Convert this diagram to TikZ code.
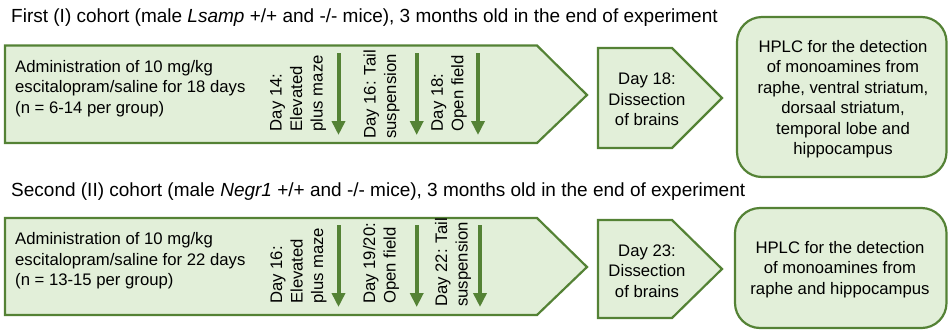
\documentclass[tikz,border=0pt]{standalone}
\usepackage{fontspec}
\setmainfont{Liberation Sans}
\usetikzlibrary{arrows.meta}
\definecolor{boxfill}{HTML}{E2EFD9}
\definecolor{boxline}{HTML}{548235}
\begin{document}
\begin{tikzpicture}[x=1pt,y=-1pt,
  shapebox/.style={draw=boxline,fill=boxfill,line width=2.2pt,line join=miter},
  roundbox/.style={draw=boxline,fill=boxfill,line width=2.2pt,rounded corners=25pt},
  txt/.style={font=\fontsize{16.7}{20.5}\selectfont,inner sep=0pt,text=black},
  titletxt/.style={font=\fontsize{19}{22}\selectfont,inner sep=0pt,anchor=base west},
  vtxt/.style={txt,rotate=90,align=left,anchor=west},
  testarrow/.style={draw=boxline,line width=4pt,-{Triangle[width=13pt,length=14pt]}}
]
\useasboundingbox (0,0) rectangle (948,330);

% ---------- first cohort ----------
\node[titletxt] (t1) at (11,22.7) {First (I) cohort (male \textit{Lsamp} +/+ and -/- mice), 3 months old in the end of experiment};

\draw[shapebox] (5,45.5) -- (537,45.5) -- (587,95) -- (537,143) -- (5,143) -- cycle;
\draw[shapebox] (598,48) -- (672,48) -- (722,98) -- (672,148) -- (598,148) -- cycle;
\draw[roundbox] (737,17) rectangle (946.5,177);

\node[txt,align=left,anchor=west] (a1) at (15,88.5) {Administration of 10 mg/kg\\escitalopram/saline for 18 days\\(n = 6-14 per group)};

\node[vtxt] (v11) at (298,131.5) {Day 14:\\Elevated\\plus maze};
\node[vtxt] (v12) at (381.5,139) {Day 16: Tail\\suspension};
\node[vtxt] (v13) at (449,131.5) {Day 18:\\Open field};

\coordinate (s11) at (338.5,53); \coordinate (e11) at (338.5,135);
\coordinate (s12) at (416.7,53); \coordinate (e12) at (416.7,135);
\coordinate (s13) at (478,53);   \coordinate (e13) at (478,135);
\draw[testarrow] (s11) -- (e11);
\draw[testarrow] (s12) -- (e12);
\draw[testarrow] (s13) -- (e13);

\node[txt,align=center] (d1) at (647,99.5) {Day 18:\\Dissection\\of brains};
\node[txt,align=center] (h1) at (843,99) {HPLC for the detection\\of monoamines from\\raphe, ventral striatum,\\dorsaal striatum,\\temporal lobe and\\hippocampus};

% ---------- second cohort ----------
\node[titletxt] (t2) at (11,196.7) {Second (II) cohort (male \textit{Negr1} +/+ and -/- mice), 3 months old in the end of experiment};

\draw[shapebox] (5,218) -- (537,218) -- (587,267) -- (537,315) -- (5,315) -- cycle;
\draw[shapebox] (598,220) -- (672,220) -- (722,269) -- (672,318) -- (598,318) -- cycle;
\draw[roundbox] (735,208) rectangle (946.5,328);

\node[txt,align=left,anchor=west] (a2) at (15,261) {Administration of 10 mg/kg\\escitalopram/saline for 22 days\\(n = 13-15 per group)};

\node[vtxt] (v21) at (298.5,304) {Day 16:\\Elevated\\plus maze};
\node[vtxt] (v22) at (381,304) {Day 19/20:\\Open field};
\node[vtxt] (v23) at (453,307) {Day 22: Tail\\suspension};

\coordinate (s21) at (338.5,225); \coordinate (e21) at (338.5,307);
\coordinate (s22) at (416.7,225); \coordinate (e22) at (416.7,307);
\coordinate (s23) at (480,225);   \coordinate (e23) at (480,307);
\draw[testarrow] (s21) -- (e21);
\draw[testarrow] (s22) -- (e22);
\draw[testarrow] (s23) -- (e23);

\node[txt,align=center] (d2) at (647,271) {Day 23:\\Dissection\\of brains};
\node[txt,align=center] (h2) at (840,269.5) {HPLC for the detection\\of monoamines from\\raphe and hippocampus};
\end{tikzpicture}
\end{document}
